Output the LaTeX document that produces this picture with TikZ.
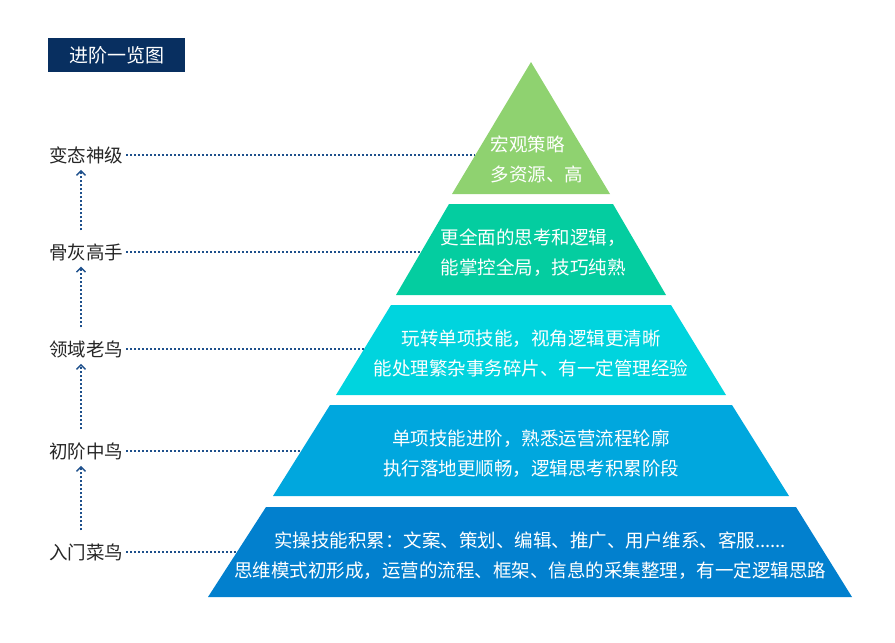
\documentclass[tikz,border=0pt]{standalone}
\usepackage{fontspec}
\setmainfont{Noto Sans CJK SC}
\usetikzlibrary{arrows.meta}
\definecolor{titlenavy}{RGB}{8,47,96}
\definecolor{guideblue}{RGB}{30,80,140}
\definecolor{tieronecol}{RGB}{143,210,112}
\definecolor{tiertwocol}{RGB}{4,205,160}
\definecolor{tierthreecol}{RGB}{0,212,222}
\definecolor{tierfourcol}{RGB}{0,167,222}
\definecolor{tierfivecol}{RGB}{2,128,206}

\begin{document}
\begin{tikzpicture}[x=1pt, y=-1pt]

  \tikzset{
    stage/.style = {
      font=\fontsize{18.5}{22}\selectfont, text=black!85, inner sep=3pt
    },
    tiertxt/.style = {
      font=\fontsize{18.5}{30}\selectfont, text=white, align=center
    },
    guide/.style = {
      draw=guideblue, line width=2pt, dash pattern=on 2pt off 2pt
    },
    climb/.style = {
      guide, -{Straight Barb[length=4.5pt, width=9pt, line width=1.4pt]},
      shorten <=10pt, shorten >=3pt
    },
    titlebox/.style = {
      fill=titlenavy, text=white, minimum width=137pt, minimum height=34pt,
      font=\fontsize{19}{22}\selectfont
    }
  }

  \useasboundingbox (0,0) rectangle (895,643);

  % --- Title ---------------------------------------------------------------
  \node (title) [titlebox] at (116.5,55) {进阶一览图};

  % --- Pyramid tiers -------------------------------------------------------
  \fill [tieronecol]   (531,62)  -- (610,194) -- (452,194) -- cycle;
  \fill [tiertwocol]   (449,204) -- (613,204) -- (666,295) -- (396,295) -- cycle;
  \fill [tierthreecol] (391,305) -- (671,305) -- (726,395) -- (336,395) -- cycle;
  \fill [tierfourcol]  (330,405) -- (732,405) -- (789,496) -- (273,496) -- cycle;
  \fill [tierfivecol]  (266,507) -- (796,507) -- (852,597) -- (208,597) -- cycle;

  \node (capfive)  [tiertxt, align=left, anchor=west] at (487,159)
    {宏观策略\\多资源、高};
  \node (capfour)  [tiertxt] at (533,253)
    {更全面的思考和逻辑，\\能掌控全局，技巧纯熟};
  \node (capthree) [tiertxt] at (531,353)
    {玩转单项技能，视角逻辑更清晰\\能处理繁杂事务碎片、有一定管理经验};
  \node (captwo)   [tiertxt] at (531,454)
    {单项技能进阶，熟悉运营流程轮廓\\执行落地更顺畅，逻辑思考积累阶段};
  \node (capone)   [tiertxt] at (530,556)
    {实操技能积累：文案、策划、编辑、推广、用户维系、客服......\\思维模式初形成，运营的流程、框架、信息的采集整理，有一定逻辑思路};

  % --- Stage labels on the left --------------------------------------------
  \node (stgfive)  [stage] at (86,155) {变态神级};
  \node (stgfour)  [stage] at (86,252) {骨灰高手};
  \node (stgthree) [stage] at (86,349) {领域老鸟};
  \node (stgtwo)   [stage] at (86,451) {初阶中鸟};
  \node (stgone)   [stage] at (86,552) {入门菜鸟};

  % points where the guides meet the tier edges
  \coordinate (edgefive)  at (475,155);
  \coordinate (edgefour)  at (421,252);
  \coordinate (edgethree) at (364,349);
  \coordinate (edgetwo)   at (301,451);
  \coordinate (edgeone)   at (237,552);

  % --- Dotted guides -------------------------------------------------------
  \draw [guide] (stgfive.east)  -- (edgefive);
  \draw [guide] (stgfour.east)  -- (edgefour);
  \draw [guide] (stgthree.east) -- (edgethree);
  \draw [guide] (stgtwo.east)   -- (edgetwo);
  \draw [guide] (stgone.east)   -- (edgeone);

  % --- Upward arrows between stages ----------------------------------------
  \draw [climb] ([xshift=-5pt]stgfour.north)  -- ([xshift=-5pt]stgfive.south);
  \draw [climb] ([xshift=-5pt]stgthree.north) -- ([xshift=-5pt]stgfour.south);
  \draw [climb] ([xshift=-5pt]stgtwo.north)   -- ([xshift=-5pt]stgthree.south);
  \draw [climb] ([xshift=-5pt]stgone.north)   -- ([xshift=-5pt]stgtwo.south);

\end{tikzpicture}
\end{document}
